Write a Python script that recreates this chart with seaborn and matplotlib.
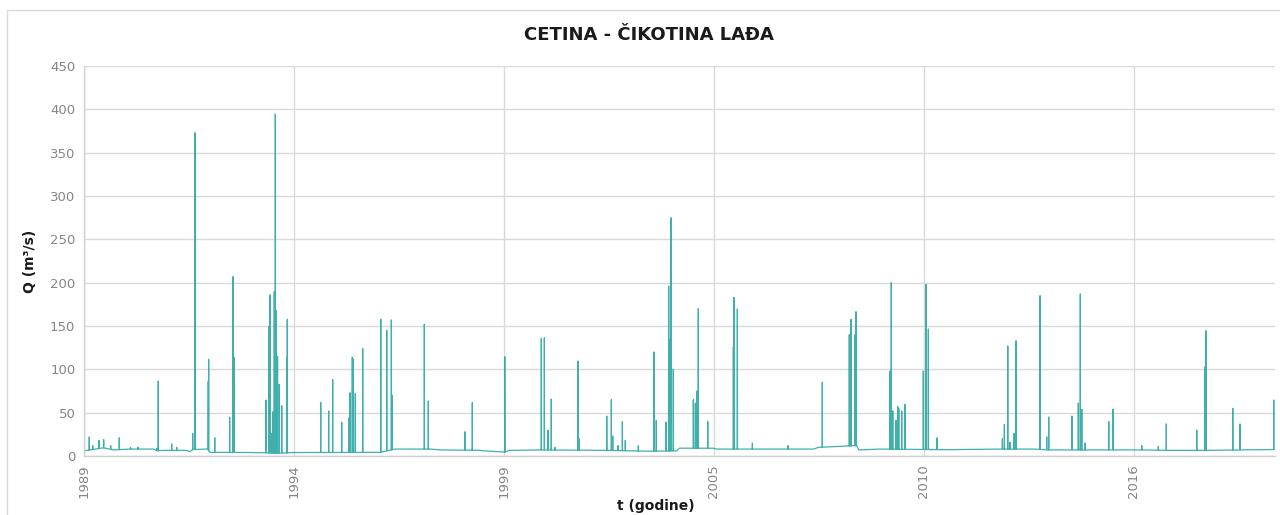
import numpy as np
import pandas as pd
import matplotlib
matplotlib.use("Agg")
import matplotlib.pyplot as plt
from matplotlib.patches import Rectangle
import seaborn as sns

# ---------------- data ----------------
start_date = "1989-01-01"
end_day = 11345  # right end of the date axis, days after start

# baseline (low-flow) anchor points: days after start, Q in m3/s
base_days = [0, 60, 187, 282, 441, 663, 700, 758, 981, 1012, 1040, 1180, 1203,
             1600, 1870, 1996, 2822, 2965, 3298, 3400, 3774, 3800, 4012, 4050,
             4346, 4981, 5400, 5648, 5672, 5996, 6029, 6949, 7000, 7267, 7362,
             7380, 7584, 8200, 8700, 9050, 9200, 10100, 10300, 10700, 11345]
base_q = [6, 7, 9.5, 7, 8, 8, 6, 6.5, 6.5, 5, 7.5, 8, 4.2,
          4, 3.3, 4, 4.2, 8, 8, 7, 6.5, 6, 4.5, 6.5,
          7, 6.5, 5.5, 6, 9, 9, 8, 8, 10, 11.5, 12,
          7, 8, 7.3, 8, 8, 7, 7, 6.5, 6.5, 7.5]

# flood peaks: days after start, Q in m3/s
peak_days = [53, 86, 146, 190, 257, 339, 446, 517, 695, 710, 838, 886, 1038,
             1060, 1186, 1190, 1248, 1390, 1422, 1434, 1736, 1762, 1774, 1790,
             1803, 1815, 1825, 1831, 1846, 1863, 1886, 1936, 1939, 2257, 2333,
             2371, 2457, 2527, 2536, 2558, 2568, 2587, 2657, 2829, 2886, 2930,
             2939, 3244, 3282, 3631, 3701, 4010, 4358, 4387, 4422, 4453, 4489,
             4708, 4717, 4981, 5025, 5038, 5089, 5130, 5158, 5282, 5431, 5453,
             5546, 5571, 5577, 5593, 5615, 5806, 5825, 5841, 5853, 5943, 6187,
             6193, 6225, 6368, 6708, 7034, 7291, 7308, 7346, 7355, 7679, 7691,
             7705, 7736, 7752, 7762, 7790, 7822, 7996, 8022, 8044, 8127, 8749,
             8768, 8800, 8822, 8860, 8879, 9108, 9171, 9190, 9412, 9472, 9491,
             9505, 9536, 9762, 9803, 10076, 10234, 10310, 10600, 10679, 10689,
             10943, 11012, 11333]
peak_q = [22, 12, 18, 19, 12, 21, 10, 10, 9, 86.5, 14, 10, 26,
          373, 86, 111.5, 21, 44.6, 207, 114, 64.6, 149, 186, 26,
          51, 189.6, 394.6, 168, 115, 82.7, 58, 114, 157.7, 62, 52,
          88.5, 39, 44, 73, 114, 112, 72, 124, 158, 145, 157,
          70, 152, 63.5, 28, 61.5, 114.6, 135.8, 136.5, 30, 65.8, 10,
          109.6, 20, 46, 65, 23, 12, 39.6, 18, 12, 120, 41,
          39, 196, 134, 275, 100, 65, 61, 75, 170, 40, 126,
          183, 169.6, 15, 12, 85, 140, 157.7, 140, 166.5, 98, 200,
          52, 41, 57, 55, 52, 59.6, 98, 198, 146.5, 21, 20,
          36.5, 127, 16, 26, 133, 185, 22, 45, 46, 61, 187,
          54, 15, 39.6, 54, 12, 11, 37, 30, 103, 144.6,
          55, 37, 64.6]

x_tick_days = [0, 2000, 4000, 6000, 8000, 10000]
y_ticks = [0, 50, 100, 150, 200, 250, 300, 350, 400, 450]

# ---------------- build the daily-style series ----------------
t0 = pd.Timestamp(start_date)
pts = list(zip(base_days, base_q))
for d, q in zip(peak_days, peak_q):
    b_before = float(np.interp(d - 1, base_days, base_q))
    b_after = float(np.interp(d + 1, base_days, base_q))
    pts += [(d - 1, b_before), (d, q), (d + 1, b_after)]
pts.sort(key=lambda p: p[0])
df = pd.DataFrame(pts, columns=["day", "Q"])
df["date"] = t0 + pd.to_timedelta(df["day"], unit="D")

# ---------------- plot ----------------
sns.set_theme(style="white")
plt.rcParams["font.family"] = ["DejaVu Sans"]

fig = plt.figure(figsize=(12.8, 5.15), dpi=100)
ax = fig.add_axes([83.7 / 1280, 1 - 456 / 515, (1275 - 83.7) / 1280, (456 - 66) / 515])

sns.lineplot(data=df, x="date", y="Q", ax=ax, color="#1FA39F",
             linewidth=0.9, alpha=0.85, estimator=None, sort=False)

ax.set_ylim(0, 450)
ax.set_yticks(y_ticks)
ax.set_xlim(t0, t0 + pd.Timedelta(days=end_day))
xt = [t0 + pd.Timedelta(days=k) for k in x_tick_days]
ax.set_xticks(xt)
ax.set_xticklabels([t.strftime("%Y") for t in xt], rotation=90)

ax.grid(True, color="#D9D9D9", linewidth=1.0)
ax.set_axisbelow(True)
for s in ["top", "right"]:
    ax.spines[s].set_visible(False)
for s in ["left", "bottom"]:
    ax.spines[s].set_color("#D0D0D0")
    ax.spines[s].set_linewidth(1.0)
ax.tick_params(axis="both", length=0, colors="#858585", labelsize=9.5, pad=6)
ax.set_xlabel("")
ax.set_ylabel("")

fig.text(649 / 1280, 1 - 35 / 515, "CETINA - ČIKOTINA LAĐA", ha="center", va="center",
         fontsize=13, fontweight="bold", color="#1A1A1A")
fig.text(30 / 1280, 1 - 261 / 515, "Q (m³/s)", ha="center", va="center", rotation=90,
         fontsize=10, fontweight="bold", color="#1A1A1A")
fig.text(656 / 1280, 1 - 506 / 515, "t (godine)", ha="center", va="center",
         fontsize=10, fontweight="bold", color="#1A1A1A")

fig.patches.append(Rectangle((7 / 1280, -0.02), 1.0, 1 - 10 / 515 + 0.02,
                             transform=fig.transFigure, fill=False,
                             edgecolor="#D9D9D9", linewidth=1.0))

fig.savefig("out.png", dpi=100)
